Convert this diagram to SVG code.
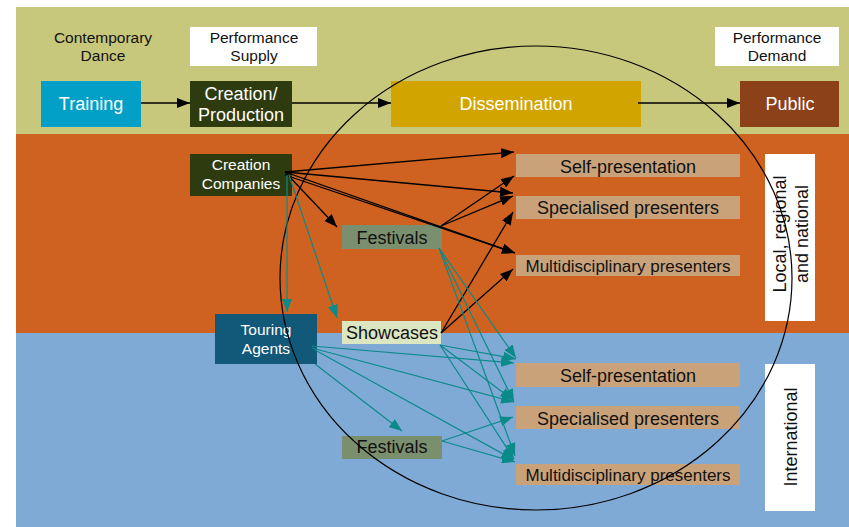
<svg xmlns="http://www.w3.org/2000/svg" width="849" height="527" viewBox="0 0 849 527">
<defs>
<style>
text{font-family:"Liberation Sans",Arial,sans-serif;text-anchor:middle}
.w{fill:#ffffff}
.k{fill:#111111}
.blk{stroke:#000000;stroke-width:1.3;fill:none;marker-end:url(#ab)}
.tl{stroke:#0B8A8A;stroke-width:1.2;fill:none;marker-end:url(#at)}
.tan{fill:#C9A27A}
</style>
<marker id="ab" viewBox="0 0 13 10" refX="13" refY="5" markerWidth="13" markerHeight="10" markerUnits="userSpaceOnUse" orient="auto"><path d="M0,0L13,5L0,10z" fill="#000"/></marker>
<marker id="at" viewBox="0 0 13 10" refX="13" refY="5" markerWidth="13" markerHeight="10" markerUnits="userSpaceOnUse" orient="auto"><path d="M0,0L13,5L0,10z" fill="#0B8A8A"/></marker>
</defs>
<rect x="0" y="0" width="849" height="527" fill="#ffffff"/>
<g id="bands">
<rect x="16" y="7" width="833" height="127" fill="#C8C87C"/>
<rect x="16" y="134" width="833" height="199" fill="#CF6220"/>
<rect x="16" y="333" width="833" height="194" fill="#80AAD6"/>
</g>
<g id="label-contemporary"><text class="k" x="103" y="43" font-size="15.5">Contemporary</text><text class="k" x="103" y="61" font-size="15.5">Dance</text></g>
<g id="label-supply"><rect x="190" y="27" width="127" height="39" fill="#fff"/><text class="k" x="254" y="43" font-size="15.5">Performance</text><text class="k" x="254" y="61" font-size="15.5">Supply</text></g>
<g id="label-demand"><rect x="715" y="27" width="124" height="39" fill="#fff"/><text class="k" x="777" y="43" font-size="15.5">Performance</text><text class="k" x="777" y="61" font-size="15.5">Demand</text></g>
<g id="training"><rect x="41" y="81" width="100" height="46" fill="#02A0C6"/><text class="w" x="91" y="110" font-size="18">Training</text></g>
<g id="creation"><rect x="190" y="81" width="102" height="46" fill="#2D3B0F"/><text class="w" x="241" y="100" font-size="18">Creation/</text><text class="w" x="241" y="121" font-size="18">Production</text></g>
<g id="dissemination"><rect x="391" y="81" width="250" height="46" fill="#D1A400"/><text class="w" x="516" y="110" font-size="18">Dissemination</text></g>
<g id="public"><rect x="740" y="81" width="99" height="46" fill="#8C4119"/><text class="w" x="790" y="110" font-size="18">Public</text></g>
<g id="creation-companies"><rect x="190" y="154" width="102" height="42" fill="#2D3B0F"/><text class="w" x="241" y="170" font-size="15.5">Creation</text><text class="w" x="241" y="189" font-size="15.5">Companies</text></g>
<g id="festivals-national"><rect x="342" y="225" width="100" height="24" fill="#7A8F6E"/><text class="k" x="392" y="244" font-size="18">Festivals</text></g>
<g id="touring-agents"><rect x="215" y="314" width="102" height="50" fill="#125879"/><text class="w" x="266" y="335" font-size="15.5">Touring</text><text class="w" x="266" y="354" font-size="15.5">Agents</text></g>
<g id="showcases"><rect x="342" y="321" width="99" height="23" fill="#DCE6C0"/><text class="k" x="392" y="339" font-size="18">Showcases</text></g>
<g id="festivals-international"><rect x="342" y="436" width="100" height="23" fill="#7A8F6E"/><text class="k" x="392" y="453" font-size="18">Festivals</text></g>
<g id="self-national"><rect class="tan" x="516" y="154" width="224" height="23"/><text class="k" x="628" y="173" font-size="18">Self-presentation</text></g>
<g id="specialised-national"><rect class="tan" x="516" y="196" width="224" height="23"/><text class="k" x="628" y="214" font-size="18">Specialised presenters</text></g>
<g id="multi-national"><rect class="tan" x="516" y="255" width="224" height="21"/><text class="k" x="628" y="272" font-size="17">Multidisciplinary presenters</text></g>
<g id="self-international"><rect class="tan" x="516" y="363" width="224" height="24"/><text class="k" x="628" y="382" font-size="18">Self-presentation</text></g>
<g id="specialised-international"><rect class="tan" x="516" y="406" width="224" height="23"/><text class="k" x="628" y="425" font-size="18">Specialised presenters</text></g>
<g id="multi-international"><rect class="tan" x="516" y="464" width="224" height="21"/><text class="k" x="628" y="481" font-size="17">Multidisciplinary presenters</text></g>
<g id="label-national"><rect x="765" y="154" width="50" height="167" fill="#fff"/><text class="k" font-size="18" transform="translate(786,234) rotate(-90)">Local, regional</text><text class="k" font-size="18" transform="translate(808,234) rotate(-90)">and national</text></g>
<g id="label-international"><rect x="765" y="364" width="50" height="147" fill="#fff"/><text class="k" font-size="18" transform="translate(797,437) rotate(-90)">International</text></g>
<g id="scope-ellipse"><ellipse cx="536" cy="278" rx="256" ry="232" fill="none" stroke="#000" stroke-width="1.2"/></g>
<g id="connectors">
<line class="blk" x1="141" y1="103" x2="190" y2="103"/>
<line class="blk" x1="292" y1="103" x2="391" y2="103"/>
<line class="blk" x1="638" y1="103" x2="740" y2="103"/>
<line class="blk" x1="285" y1="172" x2="514" y2="152"/>
<line class="blk" x1="285" y1="172" x2="513" y2="193"/>
<line class="blk" x1="285" y1="172" x2="337" y2="227"/>
<line class="blk" x1="285" y1="172" x2="515" y2="253"/>
<line class="blk" x1="285" y1="175" x2="515" y2="253"/>
<line class="blk" x1="441" y1="226" x2="514" y2="176"/>
<line class="blk" x1="441" y1="226" x2="513" y2="196"/>
<line class="blk" x1="441" y1="333" x2="513" y2="212"/>
<line class="blk" x1="441" y1="333" x2="513" y2="269"/>
<line class="tl" x1="287" y1="175" x2="287" y2="312"/>
<line class="tl" x1="289" y1="175" x2="337" y2="318"/>
<line class="tl" x1="439" y1="248" x2="516" y2="358"/>
<line class="tl" x1="439" y1="248" x2="514" y2="402"/>
<line class="tl" x1="439" y1="248" x2="515" y2="456"/>
<line class="tl" x1="440" y1="345" x2="516" y2="359"/>
<line class="tl" x1="440" y1="345" x2="513" y2="400"/>
<line class="tl" x1="440" y1="345" x2="514" y2="459"/>
<line class="tl" x1="312" y1="346" x2="514" y2="363"/>
<line class="tl" x1="312" y1="348" x2="514" y2="402"/>
<line class="tl" x1="315" y1="350" x2="514" y2="460"/>
<line class="tl" x1="315" y1="364" x2="402" y2="431"/>
<line class="tl" x1="442" y1="441" x2="513" y2="417" stroke-width="2"/>
<line class="tl" x1="442" y1="441" x2="515" y2="462"/>
</g>
</svg>
